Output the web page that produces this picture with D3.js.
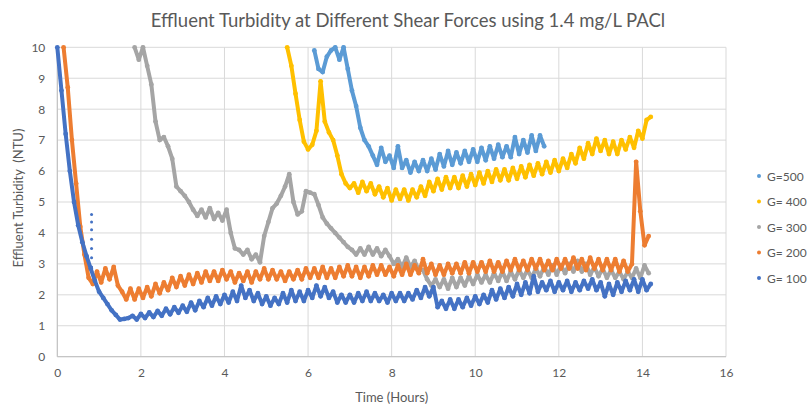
<!DOCTYPE html>
<html>
<head>
<meta charset="utf-8">
<script src="https://cdn.jsdelivr.net/npm/d3@7"></script>
<style>
  body { margin: 0; background: #fff; }
  svg { font-family: Lato, "Open Sans", sans-serif; }
</style>
</head>
<body>
<svg id="chart" width="807" height="408"></svg>
<script>
// series names, colours (legend order top to bottom)
const seriesNames = ["G=500", "G= 400", "G= 300", "G= 200", "G= 100"];
const seriesColors = ["#5B9BD5", "#FFC000", "#A5A5A5", "#ED7D31", "#4472C4"];

// logged every 0.1 h, first reading time per series
const sampleStep = 0.1;
const g500Start = 6.15;
const g400Start = 5.5;
const g300Start = 1.85;
const g200Start = 0.15;
const g100Start = 0.0;

const g500Values = [9.9, 9.3, 9.2, 9.7, 9.9, 10.0, 9.6, 10.0, 9.3, 8.6,
  8.1, 7.4, 7.0, 6.8, 6.5, 6.2, 6.75, 6.3, 6.5, 6.1,
  6.8, 6.1, 6.35, 5.95, 6.3, 6.0, 6.35, 6.0, 6.4, 6.05,
  6.55, 6.15, 6.65, 6.2, 6.6, 6.25, 6.65, 6.3, 6.7, 6.3,
  6.75, 6.35, 6.8, 6.4, 6.85, 6.45, 6.8, 6.45, 7.1, 6.55,
  7.0, 6.6, 7.15, 6.65, 7.15, 6.8];

const g400Values = [10.0, 9.4, 8.5, 7.65, 6.95, 6.7, 6.85, 7.3, 8.9, 7.6,
  7.25, 7.0, 6.5, 5.9, 5.6, 5.45, 5.6, 5.3, 5.65, 5.35,
  5.6, 5.25, 5.5, 5.15, 5.45, 5.05, 5.4, 5.1, 5.4, 5.05,
  5.4, 5.15, 5.5, 5.2, 5.65, 5.35, 5.75, 5.4, 5.8, 5.45,
  5.8, 5.45, 5.85, 5.5, 5.9, 5.55, 5.95, 5.6, 6.0, 5.65,
  6.05, 5.7, 6.05, 5.7, 6.1, 5.75, 6.15, 5.8, 6.2, 5.85,
  6.25, 5.9, 6.3, 5.95, 6.35, 6.0, 6.4, 6.1, 6.55, 6.25,
  6.75, 6.4, 6.9, 6.55, 7.05, 6.65, 7.0, 6.55, 6.95, 6.55,
  7.0, 6.7, 7.1, 6.75, 7.3, 7.05, 7.65, 7.75];

const g300Values = [10.0, 9.6, 10.0, 9.4, 8.8, 7.6, 7.0, 7.1, 6.8, 6.4,
  5.5, 5.35, 5.2, 5.0, 4.75, 4.55, 4.75, 4.5, 4.8, 4.45,
  4.65, 4.4, 4.75, 4.0, 3.5, 3.45, 3.3, 3.45, 3.15, 3.3,
  3.05, 3.9, 4.35, 4.8, 4.95, 5.2, 5.5, 5.9, 5.0, 4.6,
  4.7, 5.35, 5.3, 5.25, 4.9, 4.5, 4.3, 4.15, 4.0, 3.85,
  3.7, 3.55, 3.45, 3.3, 3.5, 3.3, 3.55, 3.3, 3.5, 3.25,
  3.45, 3.25, 3.0, 3.15, 2.9, 3.2, 2.9, 3.1, 2.8, 2.8,
  2.5, 2.3, 2.5, 2.25, 2.5, 2.2, 2.55, 2.25, 2.55, 2.3,
  2.6, 2.35, 2.65, 2.4, 2.65, 2.4, 2.7, 2.45, 2.75, 2.45,
  2.75, 2.5, 2.8, 2.55, 2.8, 2.55, 2.85, 2.6, 2.9, 2.65,
  2.95, 2.65, 2.95, 2.7, 3.0, 2.75, 3.1, 2.75, 3.0, 2.65,
  2.9, 2.6, 2.85, 2.55, 2.8, 2.55, 2.75, 2.5, 2.75, 2.55,
  2.85, 2.55, 2.95, 2.7];

const g200Values = [10.0, 8.7, 7.0, 5.6, 4.2, 3.3, 2.55, 2.35, 2.75, 2.4,
  2.85, 2.5, 2.9, 2.3, 2.1, 1.85, 2.2, 1.85, 2.2, 1.9,
  2.25, 1.95, 2.35, 2.05, 2.4, 2.15, 2.55, 2.25, 2.6, 2.3,
  2.65, 2.35, 2.7, 2.4, 2.75, 2.45, 2.75, 2.45, 2.8, 2.5,
  2.75, 2.4, 2.7, 2.45, 2.75, 2.4, 2.75, 2.5, 2.85, 2.5,
  2.8, 2.5, 2.75, 2.45, 2.75, 2.5, 2.8, 2.5, 2.85, 2.55,
  2.85, 2.55, 2.9, 2.55, 2.85, 2.55, 2.9, 2.6, 2.95, 2.6,
  2.9, 2.55, 2.9, 2.6, 2.95, 2.65, 2.95, 2.65, 2.9, 2.6,
  2.95, 2.65, 3.0, 2.65, 2.95, 2.7, 3.15, 2.7, 3.0, 2.65,
  2.95, 2.65, 3.0, 2.7, 3.0, 2.7, 3.05, 2.7, 3.05, 2.75,
  3.05, 2.75, 3.1, 2.75, 3.05, 2.75, 3.1, 2.8, 3.15, 2.8,
  3.1, 2.8, 3.15, 2.85, 3.15, 2.8, 3.1, 2.8, 3.15, 2.85,
  3.15, 2.85, 3.2, 2.85, 3.15, 2.8, 3.2, 2.85, 3.15, 2.8,
  3.15, 2.8, 3.15, 2.75, 3.1, 2.75, 3.0, 6.3, 4.7, 3.6,
  3.9];

const g100Values = [10.0, 8.6, 7.2, 6.0, 5.0, 4.25, 3.7, 3.25, 2.85, 2.45,
  2.1, 1.9, 1.7, 1.5, 1.35, 1.2, 1.22, 1.25, 1.32, 1.2,
  1.38, 1.25, 1.43, 1.28, 1.48, 1.32, 1.55, 1.37, 1.6, 1.42,
  1.65, 1.45, 1.75, 1.5, 1.8, 1.6, 1.9, 1.65, 1.95, 1.7,
  2.0, 1.75, 2.1, 1.8, 2.3, 1.9, 2.15, 1.8, 2.05, 1.7,
  1.95, 1.65, 1.9, 1.7, 2.05, 1.75, 2.15, 1.8, 2.1, 1.8,
  2.15, 1.9, 2.3, 1.95, 2.25, 1.9, 2.1, 1.75, 2.0, 1.75,
  2.0, 1.75, 2.05, 1.8, 2.1, 1.8, 2.05, 1.8, 2.0, 1.75,
  2.05, 1.8, 2.05, 1.8, 2.05, 1.85, 2.15, 1.9, 2.25, 1.95,
  2.25, 1.6, 1.8, 1.55, 1.85, 1.55, 1.85, 1.6, 1.9, 1.65,
  1.95, 1.7, 2.0, 1.75, 2.15, 1.85, 2.2, 1.9, 2.25, 1.95,
  2.35, 2.0, 2.4, 2.05, 2.6, 2.1, 2.4, 2.15, 2.45, 2.1,
  2.4, 2.15, 2.45, 2.1, 2.4, 2.15, 2.45, 2.2, 2.5, 2.15,
  2.4, 1.95, 2.35, 2.0, 2.4, 2.1, 2.45, 2.15, 2.5, 2.1,
  2.5, 2.15, 2.35];

// short burst of readings logged at one moment (G=100)
const g100BurstTime = 0.82;
const g100BurstValues = [2.9, 3.2, 3.5, 3.8, 4.1, 4.35, 4.6];

const xTicks = [0, 2, 4, 6, 8, 10, 12, 14, 16];
const yTicks = [0, 1, 2, 3, 4, 5, 6, 7, 8, 9, 10];

const margin = { top: 47.3, right: 81, bottom: 51.3, left: 57.3 };
const width = 807 - margin.left - margin.right;
const height = 408 - margin.top - margin.bottom;

const svg = d3.select("#chart");
const textColor = "#595959";

const xScale = d3.scaleLinear().domain([0, 16]).range([0, width]);
const yScale = d3.scaleLinear().domain([0, 10]).range([height, 0]);

const g = svg.append("g")
  .attr("transform", `translate(${margin.left},${margin.top})`);

// grid lines
g.selectAll("line.hgrid")
  .data(yTicks)
  .enter().append("line")
  .attr("class", "hgrid")
  .attr("x1", 0).attr("x2", width)
  .attr("y1", d => yScale(d)).attr("y2", d => yScale(d))
  .style("stroke", "#D9D9D9").style("stroke-width", 1);

g.selectAll("line.vgrid")
  .data(xTicks)
  .enter().append("line")
  .attr("class", "vgrid")
  .attr("y1", 0).attr("y2", height)
  .attr("x1", d => xScale(d)).attr("x2", d => xScale(d))
  .style("stroke", "#D9D9D9").style("stroke-width", 1);

// axis lines
g.append("line")
  .attr("x1", 0).attr("x2", width).attr("y1", height).attr("y2", height)
  .style("stroke", "#BFBFBF");
g.append("line")
  .attr("x1", 0).attr("x2", 0).attr("y1", 0).attr("y2", height)
  .style("stroke", "#BFBFBF");

// x axis labels
const xAxis = d3.axisBottom(xScale).tickValues(xTicks).tickSize(0).tickPadding(12);
g.append("g")
  .attr("transform", `translate(0,${height})`)
  .call(xAxis)
  .call(a => a.select(".domain").remove())
  .selectAll("text")
  .style("font-family", "Lato, sans-serif")
  .style("font-size", "12px")
  .style("fill", textColor);

// y axis labels
const yAxis = d3.axisLeft(yScale).tickValues(yTicks).tickSize(0).tickPadding(12);
g.append("g")
  .call(yAxis)
  .call(a => a.select(".domain").remove())
  .selectAll("text")
  .style("font-family", "Lato, sans-serif")
  .style("font-size", "12px")
  .style("fill", textColor);

// clip the data to the plot area
svg.append("defs").append("clipPath").attr("id", "plotClip")
  .append("rect").attr("x", -3).attr("y", -3).attr("width", width + 6).attr("height", height + 6);

const toPoints = (start, values) => values.map((v, i) => [start + i * sampleStep, v]);

const series = [
  toPoints(g500Start, g500Values),
  toPoints(g400Start, g400Values),
  toPoints(g300Start, g300Values),
  toPoints(g200Start, g200Values),
  toPoints(g100Start, g100Values)
];

const line = d3.line()
  .x(d => xScale(d[0]))
  .y(d => yScale(Math.min(d[1], 10)));

const plot = g.append("g").attr("clip-path", "url(#plotClip)");

series.forEach((pts, i) => {
  const sg = plot.append("g");
  sg.append("path")
    .datum(pts)
    .attr("d", line)
    .style("fill", "none")
    .style("stroke", seriesColors[i])
    .style("stroke-width", 4)
    .style("stroke-linejoin", "round");
  sg.selectAll("circle")
    .data(pts)
    .enter().append("circle")
    .attr("cx", d => xScale(d[0]))
    .attr("cy", d => yScale(Math.min(d[1], 10)))
    .attr("r", 2.4)
    .style("fill", seriesColors[i]);
  if (i === 4) {
    sg.selectAll("circle.burst")
      .data(g100BurstValues)
      .enter().append("circle")
      .attr("class", "burst")
      .attr("cx", xScale(g100BurstTime))
      .attr("cy", d => yScale(d))
      .attr("r", 1.5)
      .style("fill", seriesColors[i]);
  }
});

// title
svg.append("text")
  .attr("x", 408).attr("y", 27)
  .attr("text-anchor", "middle")
  .style("font-family", "Lato, sans-serif")
  .style("font-size", "18.5px")
  .style("fill", textColor)
  .text("Effluent Turbidity at Different Shear Forces using 1.4 mg/L PACl");

// axis titles
svg.append("text")
  .attr("x", margin.left + width / 2).attr("y", 402)
  .attr("text-anchor", "middle")
  .style("font-size", "13px")
  .style("fill", textColor)
  .text("Time (Hours)");

svg.append("text")
  .attr("transform", "translate(23,198) rotate(-90)")
  .attr("text-anchor", "middle")
  .style("font-size", "13px")
  .style("fill", textColor)
  .style("white-space", "pre")
  .text("Effluent Turbidity  (NTU)");

// legend
const legend = svg.append("g").attr("transform", "translate(759,176)");
seriesNames.forEach((name, i) => {
  const row = legend.append("g").attr("transform", `translate(0,${i * 25.5})`);
  row.append("circle").attr("r", 2).style("fill", seriesColors[i]);
  row.append("text")
    .attr("x", 8).attr("y", 4.5)
    .style("font-size", "12px")
    .style("fill", textColor)
    .text(name);
});
</script>
</body>
</html>
